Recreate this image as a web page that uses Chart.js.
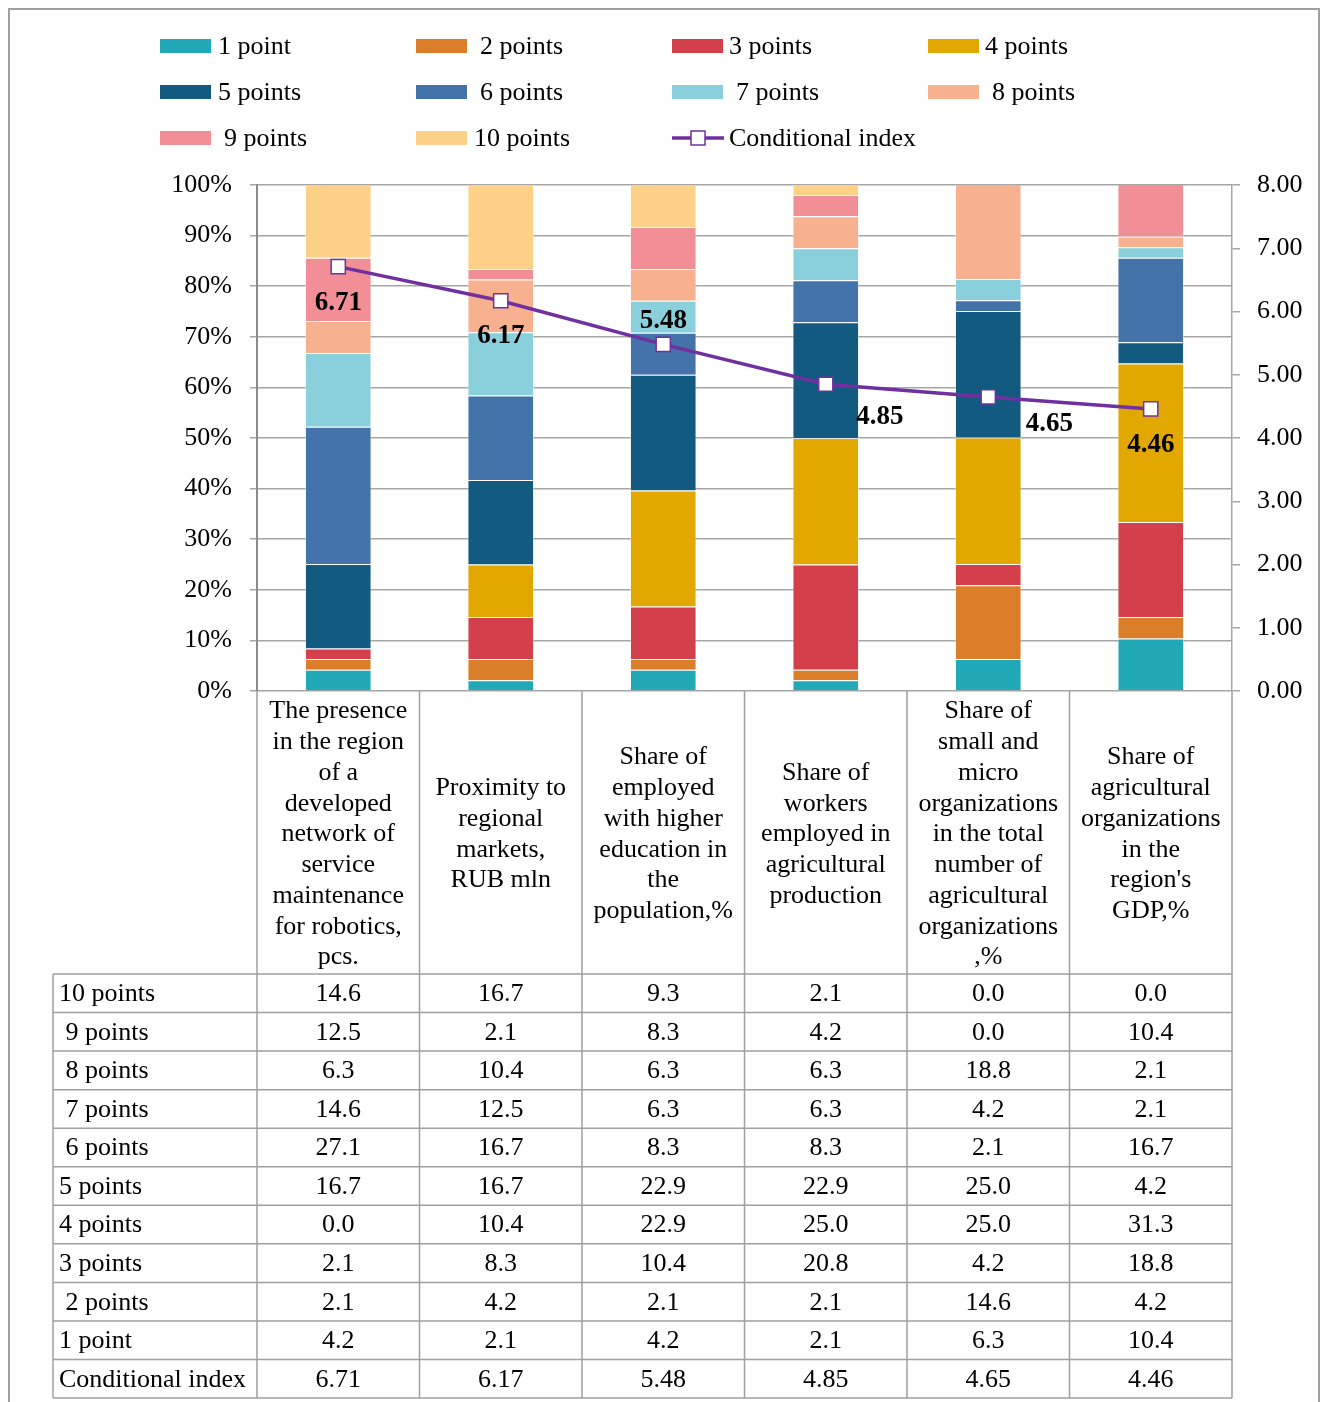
<!DOCTYPE html>
<html>
<head>
<meta charset="utf-8">
<script src="https://cdn.jsdelivr.net/npm/chart.js@4.4.1/dist/chart.umd.min.js"></script>
<style>
  html, body { margin: 0; padding: 0; background: #fff; }
  canvas { display: block; }
</style>
</head>
<body>
<canvas id="chart" width="1322" height="1402"></canvas>
<script>
// ---------- DATA ----------
const categories = [
  ["The presence", "in the region", "of a", "developed", "network of", "service", "maintenance", "for robotics,", "pcs."],
  ["Proximity to", "regional", "markets,", "RUB mln"],
  ["Share of", "employed", "with higher", "education in", "the", "population,%"],
  ["Share of", "workers", "employed in", "agricultural", "production"],
  ["Share of", "small and", "micro", "organizations", "in the total", "number of", "agricultural", "organizations", ",%"],
  ["Share of", "agricultural", "organizations", "in the", "region's", "GDP,%"]
];

const seriesNames = ["1 point", "2 points", "3 points", "4 points", "5 points",
                     "6 points", "7 points", "8 points", "9 points", "10 points"];
const rowLabels = ["10 points", " 9 points", " 8 points", " 7 points", " 6 points",
                   "5 points", "4 points", "3 points", " 2 points", "1 point"];

const p1  = [4.2, 2.1, 4.2, 2.1, 6.3, 10.4];
const p2  = [2.1, 4.2, 2.1, 2.1, 14.6, 4.2];
const p3  = [2.1, 8.3, 10.4, 20.8, 4.2, 18.8];
const p4  = [0.0, 10.4, 22.9, 25.0, 25.0, 31.3];
const p5  = [16.7, 16.7, 22.9, 22.9, 25.0, 4.2];
const p6  = [27.1, 16.7, 8.3, 8.3, 2.1, 16.7];
const p7  = [14.6, 12.5, 6.3, 6.3, 4.2, 2.1];
const p8  = [6.3, 10.4, 6.3, 6.3, 18.8, 2.1];
const p9  = [12.5, 2.1, 8.3, 4.2, 0.0, 10.4];
const p10 = [14.6, 16.7, 9.3, 2.1, 0.0, 0.0];
const conditionalIndex = [6.71, 6.17, 5.48, 4.85, 4.65, 4.46];

const pctTicks = [0, 10, 20, 30, 40, 50, 60, 70, 80, 90, 100];
const indexTicks = [0, 1, 2, 3, 4, 5, 6, 7, 8];

const seriesValues = [p1, p2, p3, p4, p5, p6, p7, p8, p9, p10];
const colors = ["#21A9B7", "#DB7E2A", "#D43F4C", "#E2A800", "#135A80",
                "#4373A8", "#89D0DC", "#F8B18E", "#F28E96", "#FDD187"];
const LINE_COLOR = "#7030A0";
const GRID = "#A6A6A6";
const FONT = "'Liberation Serif', 'DejaVu Serif', serif";

// label offsets relative to each point (px)
const labelOffsets = [[0, 36], [0, 35], [0, -23], [54, 33], [61, 27], [0, 36]];
// legend text gap after the swatch, per item
const legendGaps = [58, 64, 57, 57, 58, 64, 64, 64, 64, 58, 57];

// ---------- PLUGINS ----------
const frame = {
  id: "frame",
  beforeDraw(chart) {
    const c = chart.ctx;
    c.save();
    c.fillStyle = "#fff";
    c.fillRect(0, 0, chart.width, chart.height);
    c.strokeStyle = "#A0A0A0";
    c.lineWidth = 2;
    c.beginPath();
    c.moveTo(9, chart.height);
    c.lineTo(9, 9);
    c.lineTo(1319, 9);
    c.lineTo(1319, chart.height);
    c.stroke();
    c.restore();
  }
};

const legendGrid = {
  id: "legendGrid",
  afterDraw(chart) {
    const c = chart.ctx;
    c.save();
    c.font = "26px " + FONT;
    c.textBaseline = "middle";
    c.fillStyle = "#000";
    const items = seriesNames.map((n, i) => ({ text: n, color: colors[i] }));
    items.push({ text: "Conditional index", line: true });
    items.forEach((it, i) => {
      const col = i % 4, row = Math.floor(i / 4);
      const x = 160 + col * 256, y = 46 + row * 46;
      if (it.line) {
        c.strokeStyle = LINE_COLOR;
        c.lineWidth = 3.5;
        c.beginPath(); c.moveTo(x, y); c.lineTo(x + 52, y); c.stroke();
        c.fillStyle = "#fff";
        c.lineWidth = 1.5;
        c.fillRect(x + 19, y - 7, 14, 14);
        c.strokeRect(x + 19, y - 7, 14, 14);
      } else {
        c.fillStyle = it.color;
        c.fillRect(x, y - 7, 51, 14);
      }
      c.fillStyle = "#000";
      c.fillText(it.text, x + legendGaps[i], y + 1);
    });
    c.restore();
  }
};

const indexLabels = {
  id: "indexLabels",
  afterDatasetsDraw(chart) {
    const meta = chart.getDatasetMeta(seriesNames.length);
    const c = chart.ctx;
    c.save();
    c.font = "bold 27px " + FONT;
    c.fillStyle = "#000";
    c.textAlign = "center";
    c.textBaseline = "middle";
    meta.data.forEach((pt, i) => {
      const [dx, dy] = labelOffsets[i];
      c.fillText(conditionalIndex[i].toFixed(2), pt.x + dx, pt.y + dy);
    });
    c.restore();
  }
};

const dataTable = {
  id: "dataTable",
  afterDraw(chart) {
    const c = chart.ctx;
    const xs = chart.scales.x;
    const half = (xs.right - xs.left) / categories.length / 2;
    const top = chart.chartArea.bottom;
    const headBottom = 974;
    const rowH = 38.55;
    const labelLeft = 53;
    const rows = rowLabels.length + 1;
    const bottom = headBottom + rowH * rows;

    c.save();
    c.strokeStyle = "#A0A0A0";
    c.lineWidth = 1.5;
    c.beginPath();
    // column lines
    for (let i = 0; i <= categories.length; i++) {
      const x = i < categories.length ? xs.getPixelForValue(i) - half : xs.getPixelForValue(i - 1) + half;
      c.moveTo(x, top); c.lineTo(x, bottom);
    }
    c.moveTo(labelLeft, headBottom); c.lineTo(labelLeft, bottom);
    for (let r = 0; r <= rows; r++) {
      const y = headBottom + r * rowH;
      c.moveTo(labelLeft, y); c.lineTo(xs.right, y);
    }
    c.stroke();

    c.fillStyle = "#000";
    c.font = "26px " + FONT;
    c.textBaseline = "middle";

    // header
    c.textAlign = "center";
    const lh = 30.75;
    const mid = (top + headBottom) / 2;
    categories.forEach((lines, i) => {
      const cx = xs.getPixelForValue(i);
      const y0 = mid - (lines.length - 1) * lh / 2;
      lines.forEach((t, k) => c.fillText(t, cx, y0 + k * lh + 2));
    });

    // body rows: 10 points at top down to 1 point, then the index
    const tableRows = seriesValues.slice().reverse().map((v, r) => ({ label: rowLabels[r], vals: v.map(x => x.toFixed(1)) }));
    tableRows.push({ label: "Conditional index", vals: conditionalIndex.map(x => x.toFixed(2)) });
    tableRows.forEach((row, r) => {
      const y = headBottom + r * rowH + rowH / 2 + 1;
      c.textAlign = "left";
      c.fillText(row.label, labelLeft + 6, y);
      c.textAlign = "center";
      row.vals.forEach((v, i) => c.fillText(v, xs.getPixelForValue(i), y));
    });
    c.restore();
  }
};

// ---------- CHART ----------
const datasets = seriesValues.map((vals, i) => ({
  type: "bar",
  label: seriesNames[i],
  data: vals,
  backgroundColor: colors[i],
  borderColor: "rgba(255,255,255,0.45)",
  borderWidth: 1,
  yAxisID: "y",
  stack: "pts",
  order: 1,
  barPercentage: 0.41,
  categoryPercentage: 1
}));
datasets.push({
  type: "line",
  label: "Conditional index",
  data: conditionalIndex,
  yAxisID: "y1",
  borderColor: LINE_COLOR,
  borderWidth: 3.5,
  pointStyle: "rect",
  pointRadius: 10,
  pointBackgroundColor: "#fff",
  pointBorderColor: LINE_COLOR,
  pointBorderWidth: 1.5,
  tension: 0,
  order: 0
});

new Chart(document.getElementById("chart"), {
  data: { labels: categories.map(l => l.join(" ")), datasets },
  options: {
    responsive: false,
    animation: false,
    devicePixelRatio: 1,
    layout: { padding: { top: 185, bottom: 1402 - 691, left: 0, right: 0 } },
    plugins: { legend: { display: false }, tooltip: { enabled: false } },
    scales: {
      x: { display: false, stacked: true },
      y: {
        stacked: true,
        min: 0, max: 100,
        afterBuildTicks: s => { s.ticks = pctTicks.map(v => ({ value: v })); },
        afterFit: s => { s.width = 257; },
        grid: { color: GRID, lineWidth: 1.5, tickLength: 7 },
        border: { color: "#8C8C8C", width: 2 },
        ticks: { padding: 18, color: "#000", font: { family: FONT, size: 26 }, callback: v => v + "%" }
      },
      y1: {
        position: "right",
        min: 0, max: 8,
        afterBuildTicks: s => { s.ticks = indexTicks.map(v => ({ value: v })); },
        afterFit: s => { s.width = 1322 - 1232; },
        grid: { drawOnChartArea: false, color: GRID, lineWidth: 1.5, tickLength: 8 },
        border: { color: GRID, width: 1.5 },
        ticks: { padding: 17, color: "#000", font: { family: FONT, size: 26 }, callback: v => v.toFixed(2) }
      }
    }
  },
  plugins: [frame, legendGrid, indexLabels, dataTable]
});
</script>
</body>
</html>
